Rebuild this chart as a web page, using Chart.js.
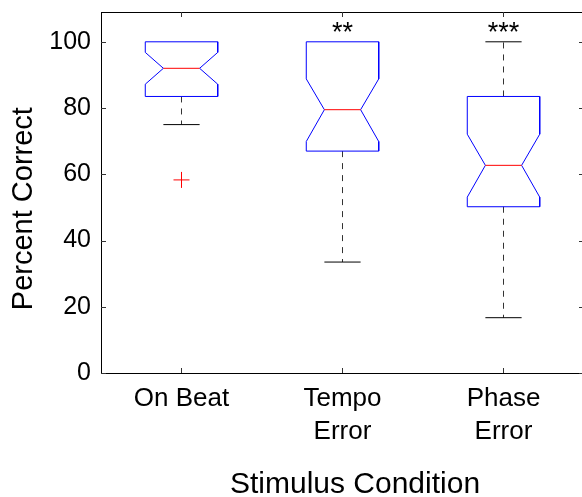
<!DOCTYPE html>
<html>
<head>
<meta charset="utf-8">
<script src="https://cdn.jsdelivr.net/npm/chart.js@4.4.0/dist/chart.umd.min.js"></script>
<style>
  html, body { margin: 0; padding: 0; overflow: hidden; background: #fff; }
</style>
</head>
<body>
<canvas id="grafico" width="590" height="497"></canvas>
<script>
// datos
const categorias = [["On Beat"], ["Tempo", "Error"], ["Phase", "Error"]];
const cuartil1 = [83.5, 67.0, 50.2];
const mediana = [92.0, 79.5, 62.7];
const cuartil3 = [100, 100, 83.5];
const muescaBaja = [87.2, 69.9, 53.1];
const muescaAlta = [96.8, 88.8, 72.1];
const bigoteBajo = [75.0, 33.5, 16.7];
const bigoteAlto = [100, 100, 100];
const atipicos = [[58.3], [], []];
const significancia = ["", "**", "***"];
const ticksY = [0, 20, 40, 60, 80, 100];

const FUENTE = "'Liberation Sans', Arial, Helvetica, sans-serif";
const ANCHO = 0.225;   // media anchura de la caja
const MUESCA = 0.1125; // media anchura en la muesca / remate

const datasets = [];

categorias.forEach((_, i) => {
  const x = i + 1;
  // mediana
  datasets.push({
    data: [{ x: x - MUESCA, y: mediana[i] }, { x: x + MUESCA, y: mediana[i] }],
    borderColor: "#ff0000", borderWidth: 1, order: 0
  });
  // caja con muesca
  datasets.push({
    data: [
      { x: x - ANCHO, y: cuartil3[i] }, { x: x + ANCHO, y: cuartil3[i] },
      { x: x + ANCHO, y: muescaAlta[i] }, { x: x + MUESCA, y: mediana[i] },
      { x: x + ANCHO, y: muescaBaja[i] }, { x: x + ANCHO, y: cuartil1[i] },
      { x: x - ANCHO, y: cuartil1[i] }, { x: x - ANCHO, y: muescaBaja[i] },
      { x: x - MUESCA, y: mediana[i] }, { x: x - ANCHO, y: muescaAlta[i] },
      { x: x - ANCHO, y: cuartil3[i] }
    ],
    borderColor: "#0000ff", borderWidth: 1, order: 1
  });
  // bigote superior (solo si sobresale de la caja)
  if (bigoteAlto[i] > cuartil3[i]) {
    datasets.push({
      data: [{ x: x, y: cuartil3[i] }, { x: x, y: bigoteAlto[i] }],
      borderColor: "#333", borderWidth: 1, borderDash: [6, 6], order: 3
    });
    datasets.push({
      data: [{ x: x - MUESCA, y: bigoteAlto[i] }, { x: x + MUESCA, y: bigoteAlto[i] }],
      borderColor: "#000", borderWidth: 1, order: 2
    });
  }
  // bigote inferior
  datasets.push({
    data: [{ x: x, y: cuartil1[i] }, { x: x, y: bigoteBajo[i] }],
    borderColor: "#333", borderWidth: 1, borderDash: [6, 6], order: 3
  });
  datasets.push({
    data: [{ x: x - MUESCA, y: bigoteBajo[i] }, { x: x + MUESCA, y: bigoteBajo[i] }],
    borderColor: "#000", borderWidth: 1, order: 2
  });
  // atipicos
  datasets.push({
    data: atipicos[i].map(v => ({ x: x, y: v })),
    showLine: false, pointStyle: "cross", pointRadius: 8,
    pointBorderColor: "#ff0000", pointBorderWidth: 1, order: 0
  });
});

datasets.forEach(d => {
  if (d.showLine === undefined) d.showLine = true;
  if (d.pointRadius === undefined) d.pointRadius = 0;
  d.tension = 0;
  d.fill = false;
});

// quita el relleno automatico que Chart.js reserva para las etiquetas
function sinRelleno(s) {
  s.paddingTop = 0; s.paddingBottom = 0; s.paddingLeft = 0; s.paddingRight = 0;
}

// marco y marcas de graduacion hacia dentro
const marco = {
  id: "marco",
  afterDatasetsDraw(chart) {
    const { ctx, chartArea: { left, right, top, bottom }, scales: { x, y } } = chart;
    ctx.save();
    ctx.strokeStyle = "#000";
    ctx.lineWidth = 1;
    ctx.strokeRect(left + 0.5, top + 0.5, right - left - 1, bottom - top);

    ctx.strokeStyle = "#333";
    ctx.beginPath();
    ticksY.forEach(v => {
      const py = Math.round(y.getPixelForValue(v)) + 0.5;
      ctx.moveTo(left, py); ctx.lineTo(left + 5, py);
      ctx.moveTo(right - 5, py); ctx.lineTo(right, py);
    });
    categorias.forEach((_, i) => {
      const px = Math.floor(x.getPixelForValue(i + 1)) + 0.5;
      ctx.moveTo(px, bottom); ctx.lineTo(px, bottom - 5);
      ctx.moveTo(px, top); ctx.lineTo(px, top + 5);
    });
    ctx.stroke();

    // asteriscos de significancia
    ctx.fillStyle = "#000";
    ctx.font = "27px " + FUENTE;
    ctx.textAlign = "center";
    ctx.textBaseline = "middle";
    significancia.forEach((s, i) => {
      if (!s) return;
      ctx.fillText(s, x.getPixelForValue(i + 1), y.getPixelForValue(102.6));
    });
    ctx.restore();
  }
};

new Chart(document.getElementById("grafico"), {
  type: "scatter",
  data: { datasets },
  options: {
    responsive: false,
    animation: false,
    layout: { autoPadding: false, padding: { top: 12, right: 6, left: 0, bottom: 0 } },
    plugins: { legend: { display: false }, tooltip: { enabled: false } },
    scales: {
      x: {
        type: "linear", min: 0.5, max: 3.5,
        afterFit: s => { s.height = 124; sinRelleno(s); },
        afterBuildTicks: s => { s.ticks = categorias.map((_, i) => ({ value: i + 1 })); },
        grid: { display: false, drawTicks: false },
        border: { display: false },
        ticks: {
          padding: 9, color: "#000",
          font: { family: FUENTE, size: 26, lineHeight: 1.28 },
          callback: v => categorias[v - 1]
        },
        title: {
          display: true, text: "   Stimulus Condition", color: "#000",
          font: { family: FUENTE, size: 30 }, padding: { top: 0, bottom: -6 }
        }
      },
      y: {
        min: 0, max: 109,
        afterFit: s => { s.width = 101; sinRelleno(s); },
        afterBuildTicks: s => { s.ticks = ticksY.map(v => ({ value: v })); },
        grid: { display: false, drawTicks: false },
        border: { display: false },
        ticks: {
          padding: 10, color: "#000",
          font: { family: FUENTE, size: 25 }
        },
        title: {
          display: true, text: "Percent Correct    ", color: "#000",
          font: { family: FUENTE, size: 29 }, padding: { top: 7, bottom: 0 }
        }
      }
    }
  },
  plugins: [marco]
});
</script>
</body>
</html>
